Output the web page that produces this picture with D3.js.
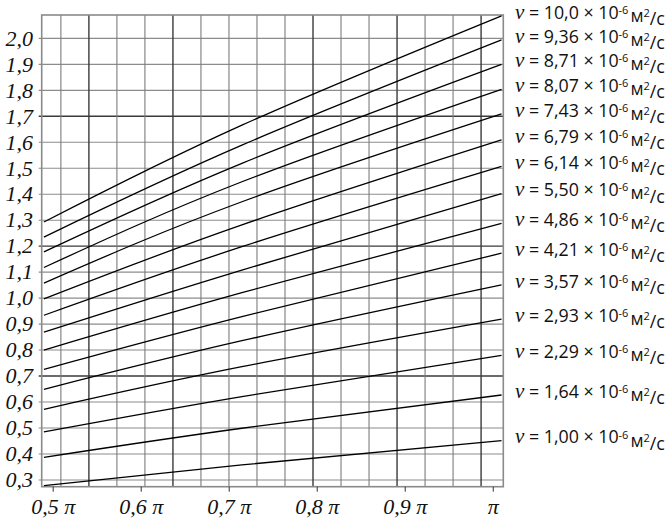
<!DOCTYPE html>
<html><head><meta charset="utf-8">
<script src="https://cdn.jsdelivr.net/npm/d3@7/dist/d3.min.js"></script>
<style>body{margin:0;background:#fff}svg{display:block}
.serif{font-family:"Liberation Serif","Times New Roman",serif;font-style:italic}
.sans{font-family:"Open Sans",sans-serif}
</style>
</head><body>
<svg id="chart" width="669" height="521"></svg>
<script>
// x positions of the read points, in units of π
const xPoints = [0.49, 0.715, 1.01];
// kinematic viscosity labels (×10^-6 m²/s), top line first
const viscosity = ["10,0","9,36","8,71","8,07","7,43","6,79","6,14","5,50","4,86","4,21","3,57","2,93","2,29","1,64","1,00"];
// line values at the three x points
const valuesLeft  = [1.293,1.235,1.178,1.118,1.058,0.997,0.934,0.869,0.800,0.726,0.649,0.572,0.485,0.387,0.278];
const valuesMid   = [1.666,1.589,1.519,1.448,1.371,1.282,1.198,1.108,1.021,0.929,0.836,0.736,0.621,0.499,0.358];
const valuesRight = [2.087,1.994,1.900,1.804,1.709,1.609,1.507,1.402,1.288,1.173,1.051,0.919,0.780,0.627,0.451];
// axis ticks
const yTicks = [0.3,0.4,0.5,0.6,0.7,0.8,0.9,1.0,1.1,1.2,1.3,1.4,1.5,1.6,1.7,1.8,1.9,2.0];
const yTickLabels = ["0,3","0,4","0,5","0,6","0,7","0,8","0,9","1,0","1,1","1,2","1,3","1,4","1,5","1,6","1,7","1,8","1,9","2,0"];
const xTicks = [0.5,0.6,0.7,0.8,0.9,1.0];
const xTickLabels = ["0,5 π","0,6 π","0,7 π","0,8 π","0,9 π","π"];
// vertical grid every 0.1 rad
const xGridRad = [1.6,1.7,1.8,1.9,2.0,2.1,2.2,2.3,2.4,2.5,2.6,2.7,2.8,2.9,3.0,3.1];
const xGridDark = [1.7,2.0,2.5,2.8,3.1];
const yGridDark = [0.7,1.2,1.7];

const svg = d3.select("#chart");
const mL = 41.7, mR = 503.3, mT = 15, mB = 486.7;
const x = d3.scaleLinear().domain([0.4875, 1.0120]).range([mL, mR]);
const y = d3.scaleLinear().domain([0.274, 2.09]).range([mB, mT]);

const isDark = (arr, v) => arr.some(d => Math.abs(d - v) < 1e-6);

// horizontal grid
svg.append("g").selectAll("line").data(yTicks).join("line")
  .attr("x1", mL - 3).attr("x2", mR)
  .attr("y1", d => y(d)).attr("y2", d => y(d))
  .attr("stroke", d => isDark(yGridDark, d) ? "#3a3a3a" : "#8c8c8c")
  .attr("stroke-width", d => isDark(yGridDark, d) ? 1.4 : 1.1);

// vertical grid
svg.append("g").selectAll("line").data(xGridRad).join("line")
  .attr("x1", d => x(d / Math.PI)).attr("x2", d => x(d / Math.PI))
  .attr("y1", mT).attr("y2", mB)
  .attr("stroke", d => isDark(xGridDark, d) ? "#3a3a3a" : "#7c7c7c")
  .attr("stroke-width", d => isDark(xGridDark, d) ? 1.4 : 1.1);

// frame
svg.append("rect").attr("x", mL).attr("y", mT)
  .attr("width", mR - mL).attr("height", mB - mT)
  .attr("fill", "none").attr("stroke", "#8a8a8a").attr("stroke-width", 1.6);

// y axis labels
svg.append("g").selectAll("text").data(yTicks).join("text")
  .attr("class", "serif")
  .attr("x", 33).attr("y", d => y(d)).attr("dy", "0.33em")
  .attr("text-anchor", "end")
  .style("font-size", "22px").attr("fill", "#111")
  .text((d, i) => yTickLabels[i]);

// x ticks
const xAxis = d3.axisBottom(x).tickValues(xTicks).tickSize(5).tickFormat((d, i) => xTickLabels[i]);
const gx = svg.append("g").attr("transform", `translate(0,${mB})`).call(xAxis);
gx.attr("font-family", null).attr("font-size", null);
gx.select(".domain").remove();
gx.selectAll(".tick line").attr("stroke", "#333").attr("stroke-width", 1);
gx.selectAll(".tick text")
  .attr("class", "serif")
  .attr("y", 20).attr("dy", "0.33em")
  .style("font-size", "22px").attr("fill", "#111");

// series lines
const series = viscosity.map((v, i) => ({
  label: v,
  pts: [valuesLeft[i], valuesMid[i], valuesRight[i]].map((val, j) => [xPoints[j], val])
}));
const line = d3.line().x(d => x(d[0])).y(d => y(d[1])).curve(d3.curveNatural);
svg.append("g").selectAll("path").data(series).join("path")
  .attr("d", d => line(d.pts))
  .attr("fill", "none").attr("stroke", "#000").attr("stroke-width", 1.3);

// legend labels at line ends
const lg = svg.append("g").attr("class", "sans").style("font-size", "17.8px").attr("fill", "#111");
series.forEach(s => {
  const yy = y(s.pts[2][1]) - 3.5;
  const t = lg.append("text").attr("x", 515).attr("y", yy).attr("dy", "0.35em");
  t.append("tspan").attr("class", "serif").style("font-size", "21px").text("ν");
  t.append("tspan").text(" = " + s.label + " × 10");
  t.append("tspan").attr("dy", "-0.45em").style("font-size", "11px").text("-6");
  t.append("tspan").attr("dy", "0.45em").attr("dx", 2).text("м");
  t.append("tspan").attr("dy", "-0.45em").style("font-size", "11px").text("2");
  t.append("tspan").attr("dy", "0.45em").text("/с");
});
</script>
</body></html>
